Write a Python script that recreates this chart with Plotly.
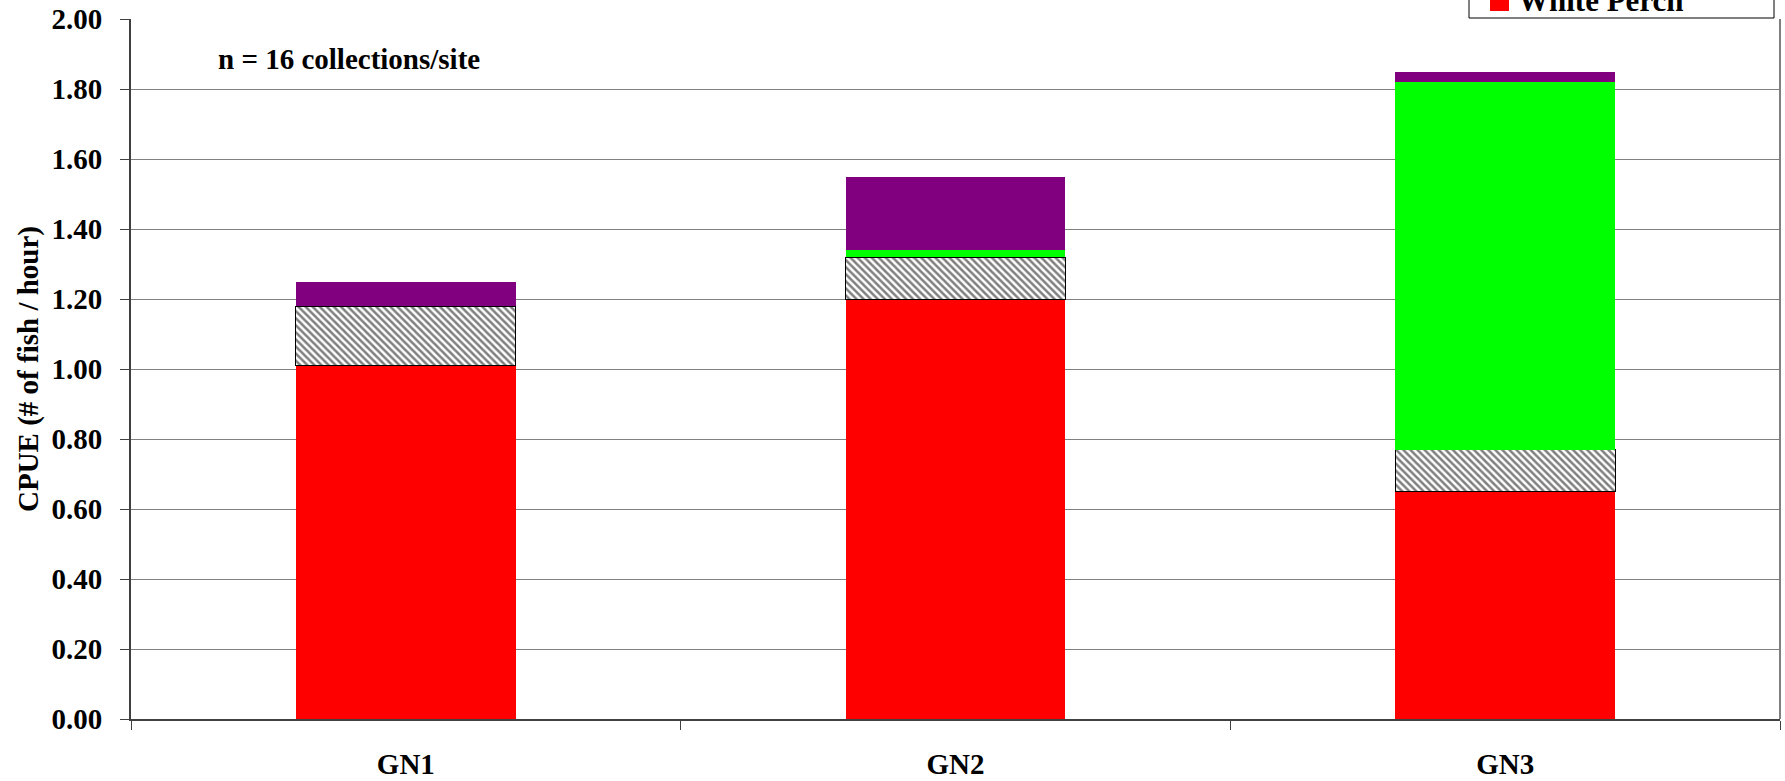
import plotly.graph_objects as go

# ---- data ----
sites = ["GN1", "GN2", "GN3"]
white_perch = [1.01, 1.20, 0.65]
series2_hatched = [0.17, 0.12, 0.12]
series3_green = [0.00, 0.02, 1.05]
series4_purple = [0.07, 0.21, 0.03]
y_ticks = [0.0, 0.2, 0.4, 0.6, 0.8, 1.0, 1.2, 1.4, 1.6, 1.8, 2.0]
legend_label = "White Perch"

FONT = "Liberation Serif, Times New Roman, serif"
W, H = 1785, 781
ML, MR, MT, MB = 131, 5, 19, 62
PW, PH = W - ML - MR, H - MT - MB


def px_x(x):
    return (x - ML) / PW


def px_y(y):
    return (H - MB - y) / PH


fig = go.Figure()
fig.add_trace(go.Bar(
    x=sites, y=white_perch, name=legend_label,
    marker=dict(color="#FF0000", line=dict(width=0)),
))
fig.add_trace(go.Bar(
    x=sites, y=series2_hatched, name="Series 2",
    marker=dict(color="white", line=dict(color="black", width=1),
                pattern=dict(shape="\\", fgcolor="black", bgcolor="white",
                             size=5, solidity=0.5)),
))
fig.add_trace(go.Bar(
    x=sites, y=series3_green, name="Series 3",
    marker=dict(color="#00FF00", line=dict(width=0)),
))
fig.add_trace(go.Bar(
    x=sites, y=series4_purple, name="Series 4",
    marker=dict(color="#800080", line=dict(width=0)),
))

fig.update_layout(
    width=W, height=H,
    barmode="stack", bargap=0.6, showlegend=False,
    paper_bgcolor="white", plot_bgcolor="white",
    margin=dict(l=ML, r=MR, t=MT, b=MB, autoexpand=False),
    font=dict(family=FONT, size=29, color="black"),
    xaxis=dict(
        showgrid=False, showline=True, linecolor="#404040", linewidth=2,
        ticks="outside", tickson="boundaries", ticklen=9, tickcolor="#404040",
        tickwidth=1, ticklabelstandoff=18,
        tickfont=dict(family=FONT, size=29, color="black", weight="bold"),
    ),
    yaxis=dict(
        range=[0, 2.0], tickvals=y_ticks, tickformat=".2f",
        showgrid=True, gridcolor="#808080", gridwidth=1,
        showline=True, linecolor="#404040", linewidth=2,
        ticks="outside", ticklen=9, tickcolor="#404040", tickwidth=1,
        ticklabelstandoff=12, zeroline=False,
        tickfont=dict(family=FONT, size=29, color="black", weight="bold"),
        title=dict(text="CPUE (# of fish / hour)", standoff=4,
                   font=dict(family=FONT, size=29, color="black", weight="bold")),
    ),
)

# right frame line of the plot area
fig.add_shape(type="line", xref="paper", yref="paper", x0=1, x1=1, y0=0, y1=1,
              line=dict(color="#808080", width=2))

# legend box (cut off at the top edge of the image, as in the reference)
fig.add_shape(type="rect", xref="paper", yref="paper",
              x0=px_x(1469), x1=px_x(1774), y0=px_y(18), y1=px_y(-40),
              line=dict(color="black", width=1), fillcolor="white", layer="above")
fig.add_shape(type="rect", xref="paper", yref="paper",
              x0=px_x(1490), x1=px_x(1509), y0=px_y(11), y1=px_y(-8),
              line=dict(width=0), fillcolor="#FF0000", layer="above")
fig.add_annotation(
    text=legend_label, xref="paper", yref="paper",
    x=px_x(1516), xanchor="left", y=px_y(20), yanchor="bottom", showarrow=False,
    font=dict(family=FONT, size=31, color="black", weight="bold"),
)

fig.add_annotation(
    text="n = 16 collections/site", xref="paper", yref="paper",
    x=px_x(216), xanchor="left", y=px_y(59), yanchor="middle", showarrow=False,
    font=dict(family=FONT, size=29, color="black", weight="bold"),
)

fig.write_html("out.html", config={"displayModeBar": False},
               post_script="document.body.style.margin='0';")
